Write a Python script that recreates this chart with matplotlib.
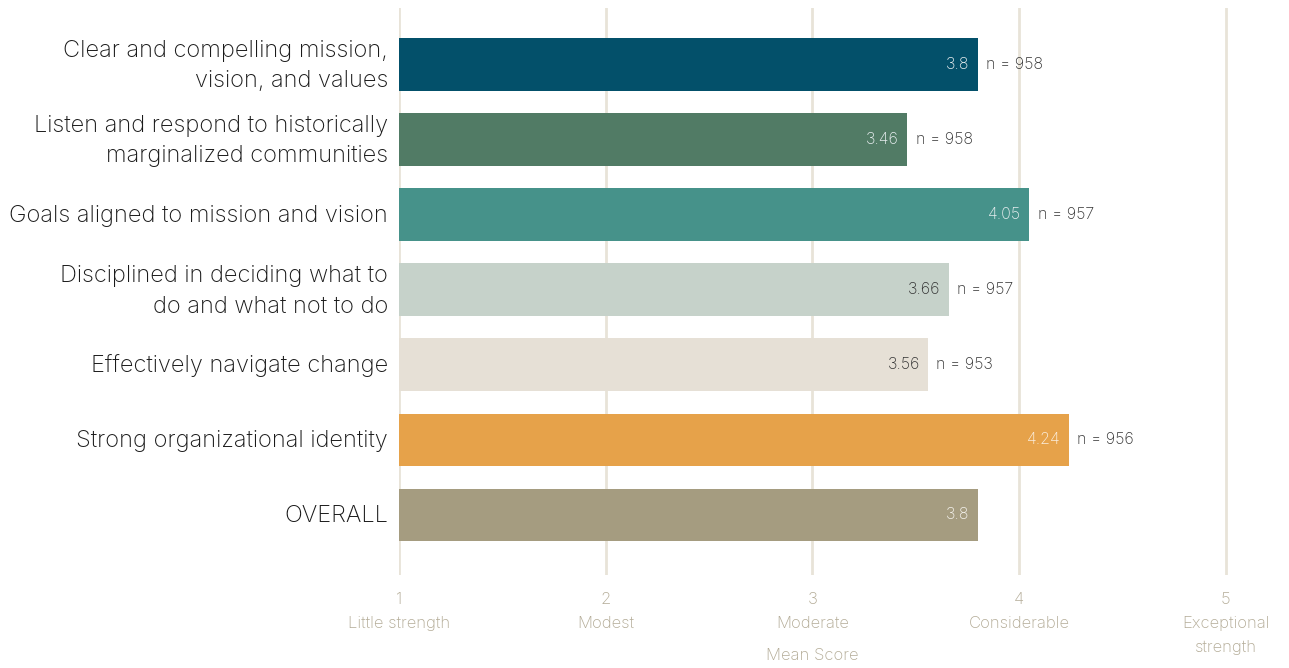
import matplotlib
matplotlib.use("Agg")
import matplotlib.pyplot as plt
from matplotlib.transforms import blended_transform_factory, ScaledTranslation

categories = [
    "Clear and compelling mission,\nvision, and values",
    "Listen and respond to historically\nmarginalized communities",
    "Goals aligned to mission and vision",
    "Disciplined in deciding what to\ndo and what not to do",
    "Effectively navigate change",
    "Strong organizational identity",
    "OVERALL",
]
scores = [3.8, 3.46, 4.05, 3.66, 3.56, 4.24, 3.8]
counts = [958, 958, 957, 957, 953, 956, None]
bar_colors = ["#03506a", "#517b65", "#46928a", "#c6d2ca", "#e6e0d6", "#e6a24a", "#a59c80"]
value_colors = ["#e8eef0", "#e8eef0", "#e8eef0", "#333333", "#333333", "#fbefe0", "#f4f2ec"]
tick_values = [1, 2, 3, 4, 5]
tick_labels = ["1\nLittle strength", "2\nModest", "3\nModerate", "4\nConsiderable", "5\nExceptional\nstrength"]

plt.rcParams["font.family"] = ["Inter", "DejaVu Sans"]

fig = plt.figure(figsize=(12.89, 6.68), dpi=100)
ax = fig.add_axes([399 / 1289, 1 - 575 / 668, 1 - 399 / 1289, (575 - 8) / 668])

grid_c = "#e8e3d8"
tick_c = "#b3ab96"

for t in tick_values:
    ax.axvline(t, color=grid_c, lw=2, zorder=0)

y = list(range(len(categories)))
ax.barh(y, [s - 1 for s in scores], left=1, height=0.7, color=bar_colors, zorder=2)

for yi, s, n, vc in zip(y, scores, counts, value_colors):
    ax.text(s - 0.04, yi, f"{s:g}", ha="right", va="center", fontsize=11.5,
            color=vc, fontweight="light", zorder=3)
    if n is not None:
        ax.text(s + 0.04, yi, f"n = {n}", ha="left", va="center", fontsize=11.5,
                color="#333333", fontweight="light", zorder=3)

ax.set_xlim(1, 1 + (1289 - 399) / 206.7)
ax.set_ylim(6.8, -0.75)
ax.set_yticks(y)
ax.set_yticklabels(categories, fontsize=17, color="#1a1a1a", fontweight="light", linespacing=1.5)
ax.set_xticks(tick_values)
ax.set_xticklabels(tick_labels, fontsize=12, color=tick_c, fontweight="light", linespacing=1.75)
ax.tick_params(axis="both", length=0)
ax.tick_params(axis="x", pad=12)
ax.tick_params(axis="y", pad=8)

# nudge two-line category labels so they sit centred on their bars
for lbl in ax.get_yticklabels():
    if "\n" in lbl.get_text():
        lbl.set_transform(lbl.get_transform() + ScaledTranslation(0, 5 / 100, fig.dpi_scale_trans))
    else:
        lbl.set_transform(lbl.get_transform() + ScaledTranslation(0, 1.5 / 100, fig.dpi_scale_trans))

# axis title centred under the middle tick
trans = blended_transform_factory(ax.transData, fig.transFigure)
ax.text(3, 1 - 656 / 668, "Mean Score", ha="center", va="center", fontsize=12,
        color=tick_c, fontweight="light", transform=trans)

for sp in ax.spines.values():
    sp.set_visible(False)

fig.savefig("out.png", dpi=100)
